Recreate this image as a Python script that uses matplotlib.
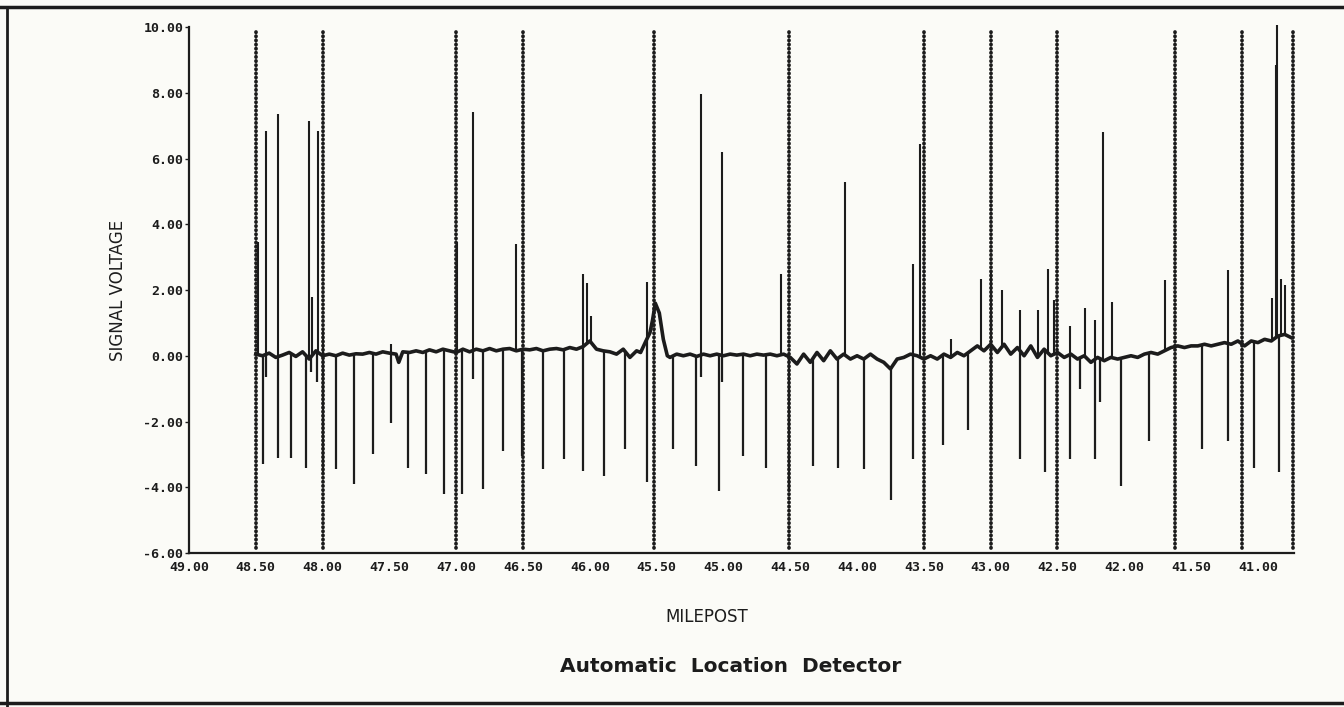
import matplotlib
matplotlib.use("Agg")
import matplotlib.pyplot as plt
from matplotlib.lines import Line2D
import numpy as np

# baseline trace (milepost, volts)
base_mp = [48.50, 48.45, 48.40, 48.35, 48.30, 48.25, 48.20, 48.15, 48.10, 48.05, 48.00,
           47.95, 47.90, 47.85, 47.80, 47.75, 47.70, 47.65, 47.60, 47.55, 47.50,
           47.45, 47.43, 47.40, 47.35, 47.30, 47.25, 47.20, 47.15, 47.10, 47.05, 47.00,
           46.95, 46.90, 46.85, 46.80, 46.75, 46.70, 46.65, 46.60, 46.55, 46.50,
           46.45, 46.40, 46.35, 46.30, 46.25, 46.20, 46.15, 46.10, 46.05, 46.00,
           45.95, 45.90, 45.85, 45.80, 45.75, 45.70, 45.65, 45.62, 45.58, 45.55, 45.53,
           45.51, 45.48, 45.45, 45.42, 45.40, 45.35, 45.30, 45.25, 45.20, 45.15, 45.10,
           45.05, 45.00, 44.95, 44.90, 44.85, 44.80, 44.75, 44.70, 44.65, 44.60, 44.55,
           44.50, 44.45, 44.40, 44.35, 44.30, 44.25, 44.20, 44.15, 44.10, 44.05, 44.00,
           43.95, 43.90, 43.85, 43.80, 43.75, 43.70, 43.65, 43.60, 43.55, 43.50,
           43.45, 43.40, 43.35, 43.30, 43.25, 43.20, 43.15, 43.10, 43.05, 43.00,
           42.95, 42.90, 42.85, 42.80, 42.75, 42.70, 42.65, 42.60, 42.55, 42.50,
           42.45, 42.40, 42.35, 42.30, 42.25, 42.20, 42.15, 42.10, 42.05, 42.00,
           41.95, 41.90, 41.85, 41.80, 41.75, 41.70, 41.65, 41.60, 41.55, 41.50,
           41.45, 41.40, 41.35, 41.30, 41.25, 41.20, 41.15, 41.10, 41.05, 41.00,
           40.95, 40.90, 40.85, 40.80, 40.75]
base_v = [0.05, 0.00, 0.08, -0.05, 0.02, 0.10, -0.02, 0.12, -0.10, 0.15, 0.00,
          0.05, 0.00, 0.08, 0.02, 0.06, 0.05, 0.10, 0.05, 0.12, 0.08,
          0.05, -0.20, 0.12, 0.10, 0.15, 0.10, 0.18, 0.12, 0.20, 0.15, 0.10,
          0.20, 0.12, 0.20, 0.15, 0.22, 0.15, 0.20, 0.22, 0.15, 0.20,
          0.18, 0.22, 0.15, 0.20, 0.22, 0.18, 0.25, 0.20, 0.28, 0.45,
          0.20, 0.15, 0.12, 0.05, 0.20, -0.05, 0.15, 0.10, 0.45, 0.70, 1.10,
          1.60, 1.30, 0.50, 0.00, -0.05, 0.05, 0.00, 0.05, -0.02, 0.05, 0.00,
          0.05, 0.00, 0.05, 0.02, 0.05, 0.00, 0.05, 0.02, 0.05, 0.00, 0.05,
          -0.05, -0.25, 0.05, -0.20, 0.10, -0.15, 0.15, -0.10, 0.05, -0.10, 0.00,
          -0.10, 0.05, -0.10, -0.20, -0.40, -0.10, -0.05, 0.05, 0.00, -0.10,
          0.00, -0.10, 0.05, -0.05, 0.10, 0.00, 0.15, 0.30, 0.15, 0.35,
          0.10, 0.35, 0.05, 0.25, 0.00, 0.30, -0.05, 0.20, 0.00, 0.10,
          -0.05, 0.05, -0.10, 0.00, -0.20, -0.05, -0.15, -0.05, -0.10, -0.05,
          0.00, -0.05, 0.05, 0.10, 0.05, 0.15, 0.25, 0.30, 0.25, 0.30,
          0.30, 0.35, 0.30, 0.35, 0.40, 0.35, 0.45, 0.30, 0.45, 0.40,
          0.50, 0.45, 0.60, 0.65, 0.55]

# positive spikes (milepost, peak volts)
up_mp = [48.484, 48.425, 48.335, 48.103, 48.081, 48.036, 47.998, 47.490,
         46.997, 46.877, 46.549, 46.048, 46.018, 45.988, 45.570, 45.166,
         45.009, 44.568, 44.090, 43.581, 43.529, 43.297, 43.073, 42.999,
         42.916, 42.782, 42.647, 42.572, 42.528, 42.408, 42.296, 42.221,
         42.162, 42.094, 41.698, 41.227, 40.898, 40.868, 40.854, 40.831, 40.801]
up_v = [3.45, 6.85, 7.35, 7.15, 1.80, 6.85, 0.80, 0.35,
        3.45, 7.40, 3.40, 2.50, 2.20, 1.20, 2.25, 7.95,
        6.20, 2.50, 5.30, 2.80, 6.45, 0.50, 2.35, 2.55,
        2.00, 1.40, 1.40, 2.65, 1.70, 0.90, 1.45, 1.10,
        6.80, 1.65, 2.30, 2.60, 1.75, 8.85, 10.05, 2.35, 2.15]

# negative spikes (milepost, trough volts)
dn_mp = [48.447, 48.425, 48.335, 48.238, 48.126, 48.088, 48.043, 47.998,
         47.901, 47.767, 47.625, 47.490, 47.363, 47.229, 47.094, 46.960,
         46.877, 46.803, 46.653, 46.511, 46.347, 46.197, 46.048, 45.891,
         45.734, 45.570, 45.375, 45.203, 45.166, 45.031, 45.009, 44.852,
         44.680, 44.508, 44.329, 44.142, 43.948, 43.746, 43.581, 43.357,
         43.170, 42.999, 42.782, 42.595, 42.408, 42.334, 42.221, 42.184,
         42.027, 41.818, 41.422, 41.227, 41.033, 40.846]
dn_v = [-3.30, -0.65, -3.10, -3.10, -3.40, -0.50, -0.80, -3.60,
        -3.45, -3.90, -3.00, -2.05, -3.40, -3.60, -4.20, -4.20,
        -0.70, -4.05, -2.90, -3.05, -3.45, -3.15, -3.50, -3.65,
        -2.85, -3.85, -2.85, -3.35, -0.65, -4.10, -0.80, -3.05,
        -3.40, -4.05, -3.35, -3.40, -3.45, -4.40, -3.15, -2.70,
        -2.25, -2.60, -3.15, -3.55, -3.15, -1.00, -3.15, -1.40,
        -3.95, -2.60, -2.85, -2.60, -3.40, -3.55]

# detector location markers
marker_mp = [48.50, 48.00, 47.00, 46.50, 45.52, 44.51, 43.50, 43.00,
             42.50, 41.62, 41.12, 40.74]

xticks = [49.0, 48.5, 48.0, 47.5, 47.0, 46.5, 46.0, 45.5, 45.0,
          44.5, 44.0, 43.5, 43.0, 42.5, 42.0, 41.5, 41.0]
yticks = [-6, -4, -2, 0, 2, 4, 6, 8, 10]

ink = "#1c1c1c"
paper = "#fbfbf7"

fig = plt.figure(figsize=(13.44, 7.07), dpi=100, facecolor=paper)
ax = fig.add_axes([0.1406, 0.2178, 0.8222, 0.744], facecolor=paper)

# marker lines (dotted)
ax.vlines(marker_mp, -5.85, 9.95, colors=ink, linewidth=2.7,
          linestyles=(0, (0.1, 1.0)), capstyle="round", clip_on=False, zorder=3)

# spikes rise from the baseline
b_up = np.interp(up_mp, base_mp[::-1], base_v[::-1])
b_dn = np.interp(dn_mp, base_mp[::-1], base_v[::-1])
ax.vlines(up_mp, b_up, up_v, colors=ink, linewidth=1.5, clip_on=False, zorder=4)
ax.vlines(dn_mp, b_dn, dn_v, colors=ink, linewidth=1.6, zorder=4)
ax.plot(base_mp, base_v, color=ink, linewidth=2.6, zorder=5)

ax.set_xlim(49.0, 40.73)
ax.set_ylim(-6, 10)
ax.set_xticks(xticks)
ax.set_xticklabels([f"{t:.2f}" for t in xticks])
ax.set_yticks(yticks)
ax.set_yticklabels([f"{t:.2f}" for t in yticks])

for s in ["top", "right"]:
    ax.spines[s].set_visible(False)
for s in ["left", "bottom"]:
    ax.spines[s].set_linewidth(1.6)
    ax.spines[s].set_color(ink)

ax.tick_params(axis="x", length=0, pad=6)
ax.tick_params(axis="y", length=3, width=1, color=ink, pad=1)
for lab in ax.get_xticklabels() + ax.get_yticklabels():
    lab.set_fontfamily("DejaVu Sans Mono")
    lab.set_fontweight("bold")
    lab.set_fontsize(9.5)
    lab.set_color(ink)

fig.text(118 / 1344, 1 - 290 / 707, "SIGNAL VOLTAGE", rotation=90,
         ha="center", va="center", fontsize=12, color=ink, family="DejaVu Sans")
fig.text(707 / 1344, 1 - 617 / 707, "MILEPOST", ha="center", va="center",
         fontsize=12, color=ink, family="DejaVu Sans")
fig.text(731 / 1344, 1 - 666 / 707, "Automatic  Location  Detector",
         ha="center", va="center", fontsize=14.5, fontweight="bold",
         color=ink, family="DejaVu Sans")

# page frame from the scanned copy
fig.add_artist(Line2D([0, 1], [1 - 7 / 707] * 2, transform=fig.transFigure,
                      color=ink, linewidth=2.5))
fig.add_artist(Line2D([7 / 1344] * 2, [0, 1 - 7 / 707], transform=fig.transFigure,
                      color=ink, linewidth=2.0))
fig.add_artist(Line2D([0, 1], [4 / 707] * 2, transform=fig.transFigure,
                      color=ink, linewidth=2.5))

fig.savefig("out.png", dpi=100, facecolor=paper)
